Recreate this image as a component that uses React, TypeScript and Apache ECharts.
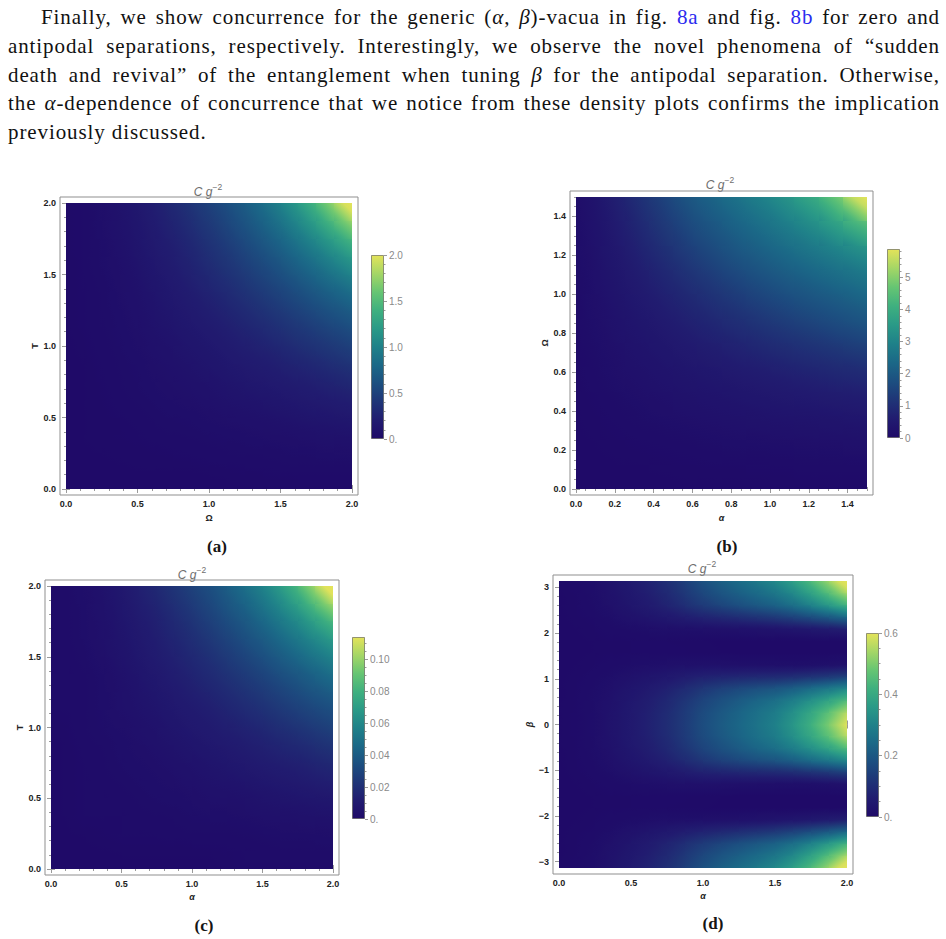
import React, { useEffect, useRef } from 'react';
import * as echarts from 'echarts';

// Colour ramp shared by every density panel and its colour bar (low -> high)
const VIRIDIS = ['#1f0a68', '#211c70', '#1f3577', '#1c4f80', '#1b6887', '#1f8189', '#2a9a87', '#3fb07f', '#66c573', '#a4d666', '#e3e35a'];

// (a) C g^-2 over (Ω, T) in [0,2]x[0,2]; rows: T ascending, columns: Ω ascending
const cellsA: number[][] = [
  [0, 0, 0, 0, 0, 0, 0, 0, 0, 0, 0.01, 0.01, 0.01, 0.01, 0.01, 0.01],
  [0, 0, 0, 0.01, 0.01, 0.01, 0.01, 0.01, 0.02, 0.02, 0.02, 0.02, 0.03, 0.03, 0.03, 0.03],
  [0, 0.01, 0.01, 0.01, 0.01, 0.02, 0.02, 0.03, 0.03, 0.04, 0.04, 0.04, 0.05, 0.05, 0.06, 0.07],
  [0, 0.01, 0.01, 0.02, 0.02, 0.03, 0.03, 0.04, 0.05, 0.05, 0.06, 0.07, 0.08, 0.09, 0.1, 0.11],
  [0, 0.01, 0.01, 0.02, 0.03, 0.04, 0.05, 0.05, 0.07, 0.08, 0.09, 0.1, 0.12, 0.14, 0.16, 0.17],
  [0, 0.01, 0.02, 0.03, 0.04, 0.05, 0.06, 0.07, 0.09, 0.11, 0.13, 0.15, 0.17, 0.19, 0.21, 0.24],
  [0, 0.01, 0.02, 0.03, 0.05, 0.06, 0.08, 0.09, 0.12, 0.14, 0.17, 0.19, 0.22, 0.24, 0.28, 0.32],
  [0, 0.01, 0.03, 0.04, 0.05, 0.07, 0.09, 0.12, 0.15, 0.18, 0.21, 0.23, 0.28, 0.32, 0.36, 0.41],
  [0.01, 0.02, 0.03, 0.05, 0.07, 0.09, 0.12, 0.15, 0.18, 0.21, 0.26, 0.3, 0.35, 0.4, 0.45, 0.51],
  [0.01, 0.02, 0.04, 0.05, 0.08, 0.11, 0.14, 0.18, 0.21, 0.26, 0.31, 0.37, 0.42, 0.48, 0.55, 0.61],
  [0.01, 0.02, 0.04, 0.06, 0.09, 0.13, 0.17, 0.21, 0.26, 0.31, 0.37, 0.44, 0.5, 0.58, 0.65, 0.73],
  [0.01, 0.02, 0.04, 0.07, 0.1, 0.15, 0.19, 0.24, 0.3, 0.37, 0.44, 0.51, 0.59, 0.67, 0.77, 0.87],
  [0.01, 0.03, 0.05, 0.08, 0.12, 0.17, 0.22, 0.28, 0.35, 0.42, 0.5, 0.59, 0.68, 0.79, 0.9, 1.03],
  [0.01, 0.03, 0.05, 0.09, 0.14, 0.19, 0.24, 0.32, 0.4, 0.48, 0.58, 0.67, 0.79, 0.91, 1.06, 1.22],
  [0.01, 0.03, 0.06, 0.1, 0.16, 0.21, 0.28, 0.36, 0.45, 0.55, 0.65, 0.77, 0.9, 1.06, 1.23, 1.48],
  [0.01, 0.03, 0.07, 0.11, 0.17, 0.24, 0.32, 0.41, 0.51, 0.61, 0.73, 0.87, 1.03, 1.22, 1.48, 1.8],
];

// (b) C g^-2 over (α, Ω) in [0,1.5]x[0,1.5]; rows: Ω ascending, columns: α ascending
const cellsB: number[][] = [
  [0, 0, 0, 0, 0.01, 0.01, 0.01, 0.01, 0.01, 0.02, 0.02, 0.02],
  [0.01, 0.02, 0.03, 0.04, 0.05, 0.07, 0.08, 0.09, 0.1, 0.11, 0.13, 0.14],
  [0.01, 0.04, 0.07, 0.1, 0.13, 0.16, 0.19, 0.21, 0.23, 0.25, 0.27, 0.29],
  [0.03, 0.08, 0.13, 0.18, 0.22, 0.26, 0.3, 0.34, 0.38, 0.41, 0.45, 0.5],
  [0.04, 0.12, 0.2, 0.26, 0.32, 0.38, 0.44, 0.51, 0.58, 0.65, 0.73, 0.8],
  [0.06, 0.18, 0.26, 0.35, 0.43, 0.53, 0.64, 0.74, 0.85, 0.96, 1.06, 1.17],
  [0.08, 0.22, 0.33, 0.45, 0.59, 0.73, 0.87, 1.02, 1.16, 1.32, 1.49, 1.65],
  [0.1, 0.27, 0.41, 0.59, 0.76, 0.96, 1.15, 1.34, 1.55, 1.74, 1.89, 2.05],
  [0.13, 0.32, 0.52, 0.74, 0.97, 1.21, 1.5, 1.71, 1.9, 2.1, 2.29, 2.48],
  [0.15, 0.38, 0.64, 0.91, 1.2, 1.55, 1.79, 2.02, 2.26, 2.49, 2.71, 2.92],
  [0.18, 0.44, 0.77, 1.1, 1.5, 1.8, 2.08, 2.36, 2.62, 2.88, 3.22, 3.63],
  [0.2, 0.53, 0.91, 1.32, 1.74, 2.07, 2.39, 2.7, 3.01, 3.48, 3.95, 5.0],
];

// (c) C g^-2 over (α, T) in [0,2]x[0,2]; rows: T ascending, columns: α ascending
const cellsC: number[][] = [
  [0, 0, 0, 0, 0, 0, 0, 0, 0, 0, 0.001, 0.001, 0.001, 0.001, 0.001, 0.001],
  [0, 0, 0, 0.001, 0.001, 0.001, 0.001, 0.001, 0.001, 0.001, 0.001, 0.001, 0.002, 0.002, 0.002, 0.002],
  [0, 0.001, 0.001, 0.001, 0.001, 0.001, 0.001, 0.002, 0.002, 0.002, 0.002, 0.003, 0.003, 0.003, 0.003, 0.004],
  [0, 0.001, 0.001, 0.001, 0.001, 0.002, 0.002, 0.002, 0.003, 0.003, 0.003, 0.004, 0.005, 0.005, 0.006, 0.006],
  [0, 0.001, 0.001, 0.001, 0.002, 0.002, 0.003, 0.003, 0.004, 0.005, 0.005, 0.006, 0.007, 0.008, 0.009, 0.01],
  [0, 0.001, 0.001, 0.002, 0.002, 0.003, 0.003, 0.004, 0.005, 0.006, 0.007, 0.009, 0.01, 0.011, 0.012, 0.014],
  [0, 0.001, 0.001, 0.002, 0.003, 0.003, 0.005, 0.005, 0.007, 0.008, 0.01, 0.011, 0.013, 0.014, 0.016, 0.018],
  [0, 0.001, 0.002, 0.002, 0.003, 0.004, 0.005, 0.007, 0.009, 0.01, 0.012, 0.013, 0.016, 0.018, 0.021, 0.024],
  [0.001, 0.001, 0.002, 0.003, 0.004, 0.005, 0.007, 0.009, 0.01, 0.012, 0.015, 0.017, 0.02, 0.023, 0.026, 0.029],
  [0.001, 0.001, 0.002, 0.003, 0.005, 0.006, 0.008, 0.01, 0.012, 0.015, 0.018, 0.021, 0.024, 0.028, 0.032, 0.035],
  [0.001, 0.001, 0.002, 0.003, 0.005, 0.007, 0.01, 0.012, 0.015, 0.018, 0.021, 0.025, 0.029, 0.033, 0.037, 0.042],
  [0.001, 0.001, 0.002, 0.004, 0.006, 0.009, 0.011, 0.014, 0.017, 0.021, 0.025, 0.029, 0.034, 0.039, 0.044, 0.05],
  [0.001, 0.002, 0.003, 0.005, 0.007, 0.01, 0.013, 0.016, 0.02, 0.024, 0.029, 0.034, 0.039, 0.046, 0.052, 0.059],
  [0.001, 0.002, 0.003, 0.005, 0.008, 0.011, 0.014, 0.018, 0.023, 0.028, 0.033, 0.039, 0.046, 0.052, 0.061, 0.07],
  [0.001, 0.002, 0.003, 0.006, 0.009, 0.012, 0.016, 0.021, 0.026, 0.032, 0.037, 0.044, 0.052, 0.061, 0.071, 0.085],
  [0.001, 0.002, 0.004, 0.006, 0.01, 0.014, 0.018, 0.024, 0.029, 0.035, 0.042, 0.05, 0.059, 0.07, 0.085, 0.104],
];

// (d) C g^-2 over (α, β) in [0,2]x[-π,π]; rows: β ascending, columns: α ascending
const cellsD: number[][] = [
  [0.002, 0.008, 0.019, 0.039, 0.058, 0.082, 0.112, 0.155, 0.189, 0.218, 0.247, 0.276, 0.31, 0.378, 0.446, 0.543],
  [0.002, 0.007, 0.017, 0.034, 0.051, 0.072, 0.098, 0.136, 0.166, 0.191, 0.217, 0.242, 0.262, 0.32, 0.377, 0.459],
  [0.001, 0.005, 0.014, 0.027, 0.041, 0.058, 0.078, 0.104, 0.127, 0.146, 0.166, 0.185, 0.205, 0.242, 0.276, 0.325],
  [0.001, 0.003, 0.006, 0.013, 0.019, 0.024, 0.029, 0.035, 0.039, 0.045, 0.051, 0.06, 0.07, 0.086, 0.101, 0.123],
  [0, 0.001, 0.003, 0.005, 0.005, 0.005, 0.005, 0.003, 0.002, 0, 0, 0, 0, 0, 0, 0],
  [0, 0.001, 0.002, 0.003, 0.003, 0.003, 0.002, 0.002, 0.001, 0, 0, 0, 0, 0, 0, 0],
  [0, 0.001, 0.003, 0.005, 0.006, 0.007, 0.007, 0.006, 0.004, 0.002, 0, 0, 0, 0, 0, 0],
  [0.001, 0.003, 0.007, 0.013, 0.02, 0.026, 0.032, 0.038, 0.039, 0.036, 0.036, 0.034, 0.032, 0.031, 0.037, 0.045],
  [0.001, 0.005, 0.013, 0.026, 0.038, 0.051, 0.069, 0.096, 0.117, 0.131, 0.143, 0.151, 0.16, 0.187, 0.207, 0.235],
  [0.002, 0.006, 0.016, 0.032, 0.048, 0.068, 0.092, 0.128, 0.156, 0.18, 0.204, 0.228, 0.243, 0.289, 0.322, 0.364],
  [0.002, 0.007, 0.019, 0.037, 0.056, 0.079, 0.107, 0.149, 0.181, 0.209, 0.237, 0.265, 0.288, 0.351, 0.391, 0.476],
  [0.002, 0.008, 0.02, 0.039, 0.059, 0.083, 0.113, 0.157, 0.191, 0.221, 0.25, 0.279, 0.314, 0.382, 0.451, 0.549],
  [0.002, 0.008, 0.02, 0.039, 0.059, 0.083, 0.113, 0.157, 0.191, 0.221, 0.25, 0.279, 0.314, 0.382, 0.451, 0.549],
  [0.002, 0.007, 0.019, 0.037, 0.056, 0.079, 0.107, 0.149, 0.181, 0.209, 0.237, 0.265, 0.288, 0.351, 0.391, 0.476],
  [0.002, 0.006, 0.016, 0.032, 0.048, 0.068, 0.092, 0.128, 0.156, 0.18, 0.204, 0.228, 0.243, 0.289, 0.322, 0.364],
  [0.001, 0.005, 0.013, 0.026, 0.038, 0.051, 0.069, 0.096, 0.117, 0.131, 0.143, 0.151, 0.16, 0.187, 0.207, 0.235],
  [0.001, 0.003, 0.007, 0.013, 0.02, 0.026, 0.032, 0.038, 0.039, 0.036, 0.036, 0.034, 0.032, 0.031, 0.037, 0.045],
  [0, 0.001, 0.003, 0.005, 0.006, 0.007, 0.007, 0.006, 0.004, 0.002, 0, 0, 0, 0, 0, 0],
  [0, 0.001, 0.002, 0.003, 0.003, 0.003, 0.002, 0.002, 0.001, 0, 0, 0, 0, 0, 0, 0],
  [0, 0.001, 0.003, 0.005, 0.005, 0.005, 0.005, 0.003, 0.002, 0, 0, 0, 0, 0, 0, 0],
  [0.001, 0.003, 0.006, 0.013, 0.019, 0.024, 0.029, 0.035, 0.039, 0.045, 0.051, 0.06, 0.07, 0.086, 0.101, 0.123],
  [0.001, 0.005, 0.014, 0.027, 0.041, 0.058, 0.078, 0.104, 0.127, 0.146, 0.166, 0.185, 0.205, 0.242, 0.276, 0.325],
  [0.002, 0.007, 0.017, 0.034, 0.051, 0.072, 0.098, 0.136, 0.166, 0.191, 0.217, 0.242, 0.262, 0.32, 0.377, 0.459],
  [0.002, 0.008, 0.019, 0.039, 0.058, 0.082, 0.112, 0.155, 0.189, 0.218, 0.247, 0.276, 0.31, 0.378, 0.446, 0.543],
];

// Axis ticks
const ticksHalf = [0, 0.5, 1, 1.5, 2];
const ticksFifth = [0, 0.2, 0.4, 0.6, 0.8, 1, 1.2, 1.4];
const ticksBeta = [-3, -2, -1, 0, 1, 2, 3];

// Colour-bar ranges and ticks
const maxA = 2.0;
const maxB = 5.88;
const maxC = 0.114;
const maxD = 0.6;
const barTicksA = [0, 0.5, 1, 1.5, 2];
const barTicksB = [0, 1, 2, 3, 4, 5];
const barTicksC = [0, 0.02, 0.04, 0.06, 0.08, 0.1];
const barTicksD = [0, 0.2, 0.4, 0.6];

const SANS = '"Liberation Sans", Arial, sans-serif';
const SERIF = '"Liberation Serif", "Times New Roman", serif';
const FRAME_GRAY = '#8f8f8f';
const TICK_GRAY = '#9a9a9a';

const fmt1 = (v: number) => v.toFixed(1);
const fmtInt = (v: number) => (v < 0 ? '\u2212' + Math.abs(v) : String(v));
const fmtBar1 = (v: number) => (v === 0 ? '0.' : v.toFixed(1));
const fmtBar2 = (v: number) => (v === 0 ? '0.' : v.toFixed(2));

function stepValues(lo: number, hi: number, step: number) {
  const out: number[] = [];
  const start = Math.ceil(lo / step - 1e-9);
  for (let k = start; k * step <= hi + 1e-9; k++) out.push(+(k * step).toFixed(6));
  return out;
}

// value -> colour along the ramp (linear in RGB between evenly spaced stops)
const RAMP_RGB = VIRIDIS.map((h) => [parseInt(h.slice(1, 3), 16), parseInt(h.slice(3, 5), 16), parseInt(h.slice(5, 7), 16)]);
function rampColor(v: number, max: number) {
  const t = Math.min(1, Math.max(0, v / max)) * (RAMP_RGB.length - 1);
  const i = Math.min(RAMP_RGB.length - 2, Math.floor(t));
  const f = t - i;
  const a = RAMP_RGB[i];
  const b = RAMP_RGB[i + 1];
  const c = [0, 1, 2].map((k) => Math.round(a[k] + (b[k] - a[k]) * f));
  return `rgb(${c[0]},${c[1]},${c[2]})`;
}

// Values at cell corners (mean of the four neighbouring cells, edges extended linearly)
function cornerValues(cells: number[][]) {
  const ny = cells.length;
  const nx = cells[0].length;
  const pad: number[][] = [];
  for (let j = 0; j < ny; j++) {
    const r = cells[j];
    pad.push([Math.max(0, 2 * r[0] - r[1]), ...r, Math.max(0, 2 * r[nx - 1] - r[nx - 2])]);
  }
  const lo = pad[0].map((v, i) => Math.max(0, 2 * v - pad[1][i]));
  const hi = pad[ny - 1].map((v, i) => Math.max(0, 2 * v - pad[ny - 2][i]));
  const P = [lo, ...pad, hi];
  const V: number[][] = [];
  for (let J = 0; J <= ny; J++) {
    const row: number[] = [];
    for (let I = 0; I <= nx; I++) row.push((P[J][I] + P[J][I + 1] + P[J + 1][I] + P[J + 1][I + 1]) / 4);
    V.push(row);
  }
  return V;
}

type Box = { left: number; top: number; width: number; height: number };
type Panel = {
  cells: number[][];
  xr: [number, number];
  yr: [number, number];
  xMajor: number[];
  xMinor: number;
  yMajor: number[];
  yMinor: number;
  xFmt: (v: number) => string;
  yFmt: (v: number) => string;
  xName: string;
  yName: string;
  xItalic: boolean;
  yItalic: boolean;
  xGap: number;
  yGap: number;
  max: number;
  barMajor: number[];
  barMinor: number;
  barFmt: (v: number) => string;
  grid: Box;
  bar: Box;
  title: [number, number];
  caption: { text: string; x: number; y: number };
};

const PANELS: Panel[] = [
  {
    cells: cellsA, xr: [0, 2], yr: [0, 2], xMajor: ticksHalf, xMinor: 0.1, yMajor: ticksHalf, yMinor: 0.1,
    xFmt: fmt1, yFmt: fmt1, xName: 'Ω', yName: 'T', xItalic: false, yItalic: false, xGap: 18, yGap: 21,
    max: maxA, barMajor: barTicksA, barMinor: 0.1, barFmt: fmtBar1,
    grid: { left: 66, top: 203, width: 286, height: 286 },
    bar: { left: 371, top: 255, width: 13, height: 184 },
    title: [208, 190], caption: { text: '(a)', x: 217, y: 546 },
  },
  {
    cells: cellsB, xr: [0, 1.5], yr: [0, 1.5], xMajor: ticksFifth, xMinor: 0.05, yMajor: ticksFifth, yMinor: 0.05,
    xFmt: fmt1, yFmt: fmt1, xName: 'α', yName: 'Ω', xItalic: true, yItalic: false, xGap: 18, yGap: 21,
    max: maxB, barMajor: barTicksB, barMinor: 0.2, barFmt: (v: number) => String(v),
    grid: { left: 576, top: 197, width: 291, height: 292 },
    bar: { left: 887, top: 249, width: 13, height: 189 },
    title: [720, 183], caption: { text: '(b)', x: 727, y: 546 },
  },
  {
    cells: cellsC, xr: [0, 2], yr: [0, 2], xMajor: ticksHalf, xMinor: 0.1, yMajor: ticksHalf, yMinor: 0.1,
    xFmt: fmt1, yFmt: fmt1, xName: 'α', yName: 'T', xItalic: true, yItalic: false, xGap: 17, yGap: 19,
    max: maxC, barMajor: barTicksC, barMinor: 0.005, barFmt: fmtBar2,
    grid: { left: 51, top: 586, width: 282, height: 283 },
    bar: { left: 352, top: 637, width: 13, height: 182 },
    title: [192, 573], caption: { text: '(c)', x: 204, y: 925 },
  },
  {
    cells: cellsD, xr: [0, 2], yr: [-Math.PI, Math.PI], xMajor: ticksHalf, xMinor: 0.1, yMajor: ticksBeta, yMinor: 0.2,
    xFmt: fmt1, yFmt: fmtInt, xName: 'α', yName: 'β', xItalic: true, yItalic: true, xGap: 17, yGap: 18,
    max: maxD, barMajor: barTicksD, barMinor: 0.05, barFmt: fmtBar1,
    grid: { left: 559, top: 581, width: 288, height: 287 },
    bar: { left: 866, top: 633, width: 13, height: 184 },
    title: [702, 567], caption: { text: '(d)', x: 713, y: 923 },
  },
];

// Four frame axes per dimension: major + minor ticks on both sides, labels on bottom/left only
function frameAxes(
  gridIndex: number, dim: 'x' | 'y', range: [number, number], major: number[], minorStep: number,
  fmt: (v: number) => string, name: string, italic: boolean, nameGap: number,
) {
  const sides = dim === 'x' ? ['bottom', 'top'] : ['left', 'right'];
  const minor = stepValues(range[0], range[1], minorStep);
  const axes: any[] = [];
  sides.forEach((pos, s) => {
    [major, minor].forEach((vals, m) => {
      const main = s === 0 && m === 0;
      axes.push({
        type: 'value',
        gridIndex,
        position: pos,
        offset: 6,
        min: range[0],
        max: range[1],
        axisLine: { show: false },
        splitLine: { show: false },
        axisTick: {
          show: true, inside: true, length: m === 0 ? 4 : 2, customValues: vals,
          lineStyle: { color: TICK_GRAY, width: 1 },
        },
        axisLabel: main
          ? { show: true, customValues: major, formatter: fmt, margin: 4, fontSize: 9, fontWeight: 'bold', color: '#222', fontFamily: SANS }
          : { show: false },
        name: main ? name : '',
        nameLocation: 'middle',
        nameGap,
        nameTextStyle: { fontSize: 9, fontWeight: 'bold', fontStyle: italic ? 'italic' : 'normal', color: '#222', fontFamily: SANS },
      });
    });
  });
  return axes;
}

function barAxes(gridIndex: number, max: number, major: number[], minorStep: number, fmt: (v: number) => string) {
  const minor = stepValues(0, max, minorStep);
  return [major, minor].map((vals, m) => ({
    type: 'value',
    gridIndex,
    position: 'right',
    min: 0,
    max,
    axisLine: { show: false },
    splitLine: { show: false },
    axisTick: { show: true, inside: false, length: m === 0 ? 3 : 1.5, customValues: vals, lineStyle: { color: TICK_GRAY, width: 1 } },
    axisLabel: m === 0
      ? { show: true, customValues: major, formatter: fmt, margin: 5, fontSize: 10, color: '#8a8a8a', fontFamily: SANS }
      : { show: false },
  }));
}

function buildOption() {
  const grid: any[] = [];
  const xAxis: any[] = [];
  const yAxis: any[] = [];
  const series: any[] = [];
  const graphic: any[] = [];
  const stops = VIRIDIS.map((c, i) => ({ offset: i / (VIRIDIS.length - 1), color: c }));

  PANELS.forEach((p) => {
    const gi = grid.length;
    grid.push({ ...p.grid });
    const xi = xAxis.length;
    xAxis.push(...frameAxes(gi, 'x', p.xr, p.xMajor, p.xMinor, p.xFmt, p.xName, p.xItalic, p.xGap));
    const yi = yAxis.length;
    yAxis.push(...frameAxes(gi, 'y', p.yr, p.yMajor, p.yMinor, p.yFmt, p.yName, p.yItalic, p.yGap));

    const ny = p.cells.length;
    const nx = p.cells[0].length;
    const dx = (p.xr[1] - p.xr[0]) / nx;
    const dy = (p.yr[1] - p.yr[0]) / ny;
    const corners = cornerValues(p.cells);
    const data: number[][] = [];
    p.cells.forEach((row, j) => row.forEach((v, i) => data.push([p.xr[0] + (i + 0.5) * dx, p.yr[0] + (j + 0.5) * dy, v])));
    const max = p.max;

    series.push({
      type: 'custom',
      xAxisIndex: xi,
      yAxisIndex: yi,
      clip: true,
      silent: true,
      dimensions: ['x', 'y', 'c'],
      encode: { x: 0, y: 1 },
      data,
      renderItem: (params: any, api: any) => {
        const x = api.value(0) as number;
        const y = api.value(1) as number;
        const a = api.coord([x - dx / 2, y + dy / 2]);
        const b = api.coord([x + dx / 2, y - dy / 2]);
        const xl = Math.round(a[0]);
        const xr = Math.round(b[0]);
        const yt = Math.round(a[1]);
        const yb = Math.round(b[1]);
        const w = xr - xl;
        const h = yb - yt;
        const i = params.dataIndex % nx;
        const j = Math.floor(params.dataIndex / nx);
        const v00 = corners[j][i];
        const v10 = corners[j][i + 1];
        const v01 = corners[j + 1][i];
        const v11 = corners[j + 1][i + 1];
        const vc = (v00 + v10 + v01 + v11) / 4;
        // shade each cell along its local slope
        const gx = ((v10 - v00) + (v11 - v01)) / 2 / w;
        const gy = -((v01 - v00) + (v11 - v10)) / 2 / h;
        const gm = Math.hypot(gx, gy);
        let fill: any;
        if (gm * Math.max(w, h) < max * 0.002) {
          fill = rampColor(vc, max);
        } else {
          const ex = gx / gm;
          const ey = gy / gm;
          const L = (Math.abs(ex) * w + Math.abs(ey) * h) / 2;
          const cx = xl + w / 2;
          const cy = yt + h / 2;
          const cs = [0, 1, 2, 3, 4].map((k) => ({ offset: k / 4, color: rampColor(vc + gm * (-L + (2 * L * k) / 4), max) }));
          fill = new echarts.graphic.LinearGradient(cx - ex * L, cy - ey * L, cx + ex * L, cy + ey * L, cs, true);
        }
        return {
          type: 'rect',
          shape: { x: xl, y: yt, width: w, height: h },
          style: { fill },
        };
      },
    });

    // colour bar
    const bi = grid.length;
    grid.push({ ...p.bar });
    const bx = xAxis.length;
    xAxis.push({ type: 'category', gridIndex: bi, data: ['C'], show: false });
    const by = yAxis.length;
    yAxis.push(...barAxes(bi, p.max, p.barMajor, p.barMinor, p.barFmt));
    series.push({
      type: 'bar',
      xAxisIndex: bx,
      yAxisIndex: by,
      data: [p.max],
      barWidth: '100%',
      silent: true,
      itemStyle: {
        color: new echarts.graphic.LinearGradient(0, 1, 0, 0, stops),
        borderColor: 'rgba(70,70,60,0.55)',
        borderWidth: 1,
      },
    });

    // frame, title and caption
    const g = p.grid;
    graphic.push({
      type: 'rect',
      silent: true,
      z: 10,
      shape: { x: g.left - 6, y: g.top - 6, width: g.width + 12, height: g.height + 12 },
      style: { fill: 'none', stroke: FRAME_GRAY, lineWidth: 1 },
    });
    graphic.push({
      type: 'text',
      silent: true,
      x: p.title[0],
      y: p.title[1],
      style: {
        text: '{c|C g}{s|\u22122}',
        align: 'center',
        verticalAlign: 'middle',
        textAlign: 'center',
        textVerticalAlign: 'middle',
        rich: {
          c: { fontSize: 12, fontStyle: 'italic', fill: '#6e6e6e', fontFamily: SANS, lineHeight: 15, verticalAlign: 'bottom' },
          s: { fontSize: 8.5, fill: '#6e6e6e', fontFamily: SANS, lineHeight: 8, verticalAlign: 'top' },
        },
      },
    });
    graphic.push({
      type: 'text',
      silent: true,
      x: p.caption.x,
      y: p.caption.y,
      style: {
        text: p.caption.text,
        align: 'center',
        verticalAlign: 'middle',
        textAlign: 'center',
        textVerticalAlign: 'middle',
        fontSize: 17,
        fontWeight: 'bold',
        fontFamily: SERIF,
        fill: '#151515',
      },
    });
  });

  return {
    animation: false,
    backgroundColor: '#ffffff',
    textStyle: { fontFamily: SANS },
    grid,
    xAxis,
    yAxis,
    series,
    graphic: { elements: graphic },
  };
}

const lineBase: React.CSSProperties = {
  height: 28.75,
  lineHeight: '28.75px',
  textAlign: 'justify',
  textAlignLast: 'justify',
};
const link: React.CSSProperties = { color: '#2b2bef' };

export default function App() {
  const ref = useRef<HTMLDivElement>(null);
  useEffect(() => {
    if (!ref.current) return;
    const chart = echarts.init(ref.current, null, { renderer: 'svg' });
    chart.setOption(buildOption() as any);
    return () => chart.dispose();
  }, []);

  return (
    <div style={{ position: 'absolute', left: 0, top: 0, width: 946, height: 939, background: '#fff', overflow: 'hidden' }}>
      <div ref={ref} style={{ position: 'absolute', left: 0, top: 0, width: 946, height: 939 }} />
      <div
        style={{
          position: 'absolute', left: 8, top: 3, width: 932,
          fontFamily: SERIF, fontSize: 21, letterSpacing: '0.9px', color: '#111',
        }}
      >
        <div style={{ ...lineBase, textIndent: 33 }}>
          Finally, we show concurrence for the generic (<i>α</i>, <i>β</i>)-vacua in fig. <span style={link}>8a</span> and fig. <span style={link}>8b</span> for zero and
        </div>
        <div style={lineBase}>
          antipodal separations, respectively. Interestingly, we observe the novel phenomena of “sudden
        </div>
        <div style={lineBase}>
          death and revival” of the entanglement when tuning <i>β</i> for the antipodal separation. Otherwise,
        </div>
        <div style={lineBase}>
          the <i>α</i>-dependence of concurrence that we notice from these density plots confirms the implication
        </div>
        <div style={{ ...lineBase, textAlign: 'left', textAlignLast: 'left' }}>previously discussed.</div>
      </div>
    </div>
  );
}
